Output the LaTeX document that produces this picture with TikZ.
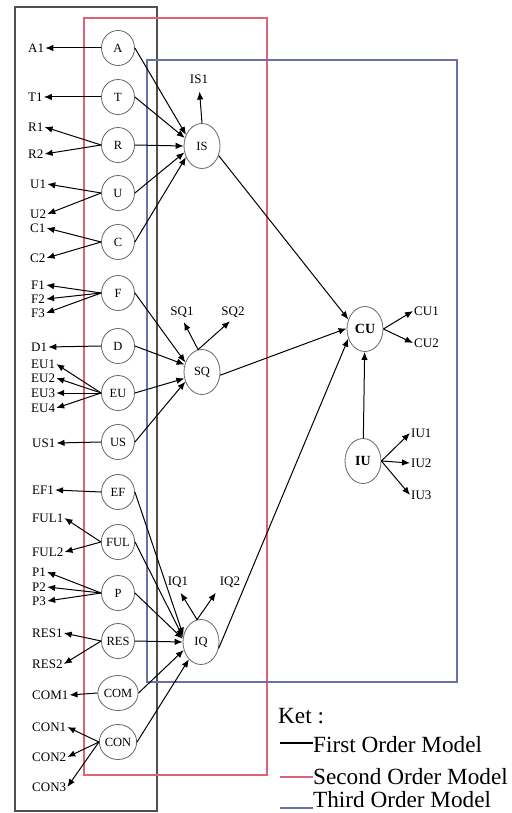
\documentclass[tikz,border=0pt]{standalone}
\usepackage{fontspec}
\setmainfont{Liberation Serif}
\usetikzlibrary{shapes.geometric,arrows.meta}

\definecolor{boxblack}{HTML}{505050}
\definecolor{boxred}{HTML}{E06276}
\definecolor{boxblue}{HTML}{6C70AA}

\tikzset{
  lat/.style={ellipse, draw=black!60, line width=0.8pt, inner sep=0pt,
    minimum width=33, minimum height=35, font=\fontsize{12.5}{12.5}\selectfont},
  hilat/.style={lat, minimum width=36, minimum height=45},
  toplat/.style={hilat, font=\fontsize{14}{14}\selectfont\bfseries},
  ind/.style={inner sep=1pt, font=\fontsize{13}{13}\selectfont},
  indl/.style={ind, anchor=west},
  arr/.style={-{Latex[length=8pt,width=6.5pt]}, line width=1pt},
  frame/.style={line width=1.4pt},
  legtxt/.style={anchor=west, inner sep=0pt, font=\fontsize{23.2}{23.2}\selectfont}
}

\begin{document}
\begin{tikzpicture}[x=1pt,y=-1pt]
\useasboundingbox (0,0) rectangle (511,813);
\fill[white] (0,0) rectangle (511,813);

% model frames
\draw[frame, boxblack] (15,7) rectangle (157,811);
\draw[frame, boxred] (84,18) rectangle (267,775);
\draw[frame, boxblue] (147,60) rectangle (457,682);

% first order latent variables
\node[lat] (A)   at (118,48)  {A};
\node[lat] (T)   at (118,97)  {T};
\node[lat] (R)   at (118,145) {R};
\node[lat] (U)   at (118,193) {U};
\node[lat] (C)   at (118,242) {C};
\node[lat] (F)   at (118,293) {F};
\node[lat] (D)   at (118,346) {D};
\node[lat] (EU)  at (118,393) {EU};
\node[lat] (US)  at (118,442) {US};
\node[lat] (EF)  at (118,492) {EF};
\node[lat] (FUL) at (118,542) {FUL};
\node[lat] (P)   at (118,593) {P};
\node[lat] (RES) at (118,641) {RES};
\node[lat] (COM) at (118,693) {COM};
\node[lat] (CON) at (118,742) {CON};

% indicators of the first order variables
\node[indl] (A1)   at (27,48)  {A1};
\node[indl] (T1)   at (27,97)  {T1};
\node[indl] (R1)   at (27,127) {R1};
\node[indl] (R2)   at (27,154) {R2};
\node[indl] (U1)   at (29,184) {U1};
\node[indl] (U2)   at (29,214) {U2};
\node[indl] (C1)   at (29,228) {C1};
\node[indl] (C2)   at (29,258) {C2};
\node[indl] (F1)   at (30,285) {F1};
\node[indl] (F2)   at (30,299) {F2};
\node[indl] (F3)   at (30,313) {F3};
\node[indl] (D1)   at (30,347) {D1};
\node[indl] (EU1)  at (30,364) {EU1};
\node[indl] (EU2)  at (30,378) {EU2};
\node[indl] (EU3)  at (30,393) {EU3};
\node[indl] (EU4)  at (30,408) {EU4};
\node[indl] (US1)  at (31,443) {US1};
\node[indl] (EF1)  at (31,490) {EF1};
\node[indl] (FUL1) at (31,518) {FUL1};
\node[indl] (FUL2) at (31,552) {FUL2};
\node[indl] (P1)   at (31,572) {P1};
\node[indl] (P2)   at (31,587) {P2};
\node[indl] (P3)   at (31,601) {P3};
\node[indl] (RES1) at (31,633) {RES1};
\node[indl] (RES2) at (31,664) {RES2};
\node[indl] (COM1) at (31,695) {COM1};
\node[indl] (CON1) at (31,727) {CON1};
\node[indl] (CON2) at (31,757) {CON2};
\node[indl] (CON3) at (31,787) {CON3};

\foreach \lv/\il in {A/A1,T/T1,R/R1,R/R2,U/U1,U/U2,C/C1,C/C2,
  F/F1,F/F2,F/F3,D/D1,EU/EU1,EU/EU2,EU/EU3,EU/EU4,US/US1,EF/EF1,
  FUL/FUL1,FUL/FUL2,P/P1,P/P2,P/P3,RES/RES1,RES/RES2,COM/COM1,
  CON/CON1,CON/CON2,CON/CON3}
  \draw[arr] (\lv.west) -- (\il.east);

% second order latent variables
\node[hilat] (IS) at (202,146) {IS};
\node[hilat] (SQ) at (202,372) {SQ};
\node[hilat] (IQ) at (201,642) {IQ};

\node[ind] (IS1) at (199,79)  {IS1};
\node[ind] (SQ1) at (182,312) {SQ1};
\node[ind] (SQ2) at (233,312) {SQ2};
\node[ind] (IQ1) at (178,582) {IQ1};
\node[ind] (IQ2) at (230,582) {IQ2};

\draw[arr, shorten >=7pt] (IS.north) -- (IS1.south);
\draw[arr, shorten >=4pt] (SQ.100) -- (SQ1.south);
\draw[arr, shorten >=4pt] (SQ.100) -- (SQ2.south);
\draw[arr, shorten >=5pt] (IQ.100) -- (IQ1.south);
\draw[arr, shorten >=5pt] (IQ.100) -- (IQ2.south west);

% first order to second order paths
\foreach \lv/\ang in {A/145,T/155,R/180,U/200,C/215}
  \draw[arr] (\lv.east) -- (IS.\ang);
\foreach \lv/\ang in {F/150,D/157,EU/200,US/210}
  \draw[arr] (\lv.east) -- (SQ.\ang);
\foreach \lv/\ang in {EF/160,FUL/165,P/170,RES/180,COM/205,CON/235}
  \draw[arr] (\lv.east) -- (IQ.\ang);

% third order latent variables
\node[toplat] (CU) at (365,329) {CU};
\node[toplat] (IU) at (363,461) {IU};

\node[indl] (CU1) at (413,311) {CU1};
\node[indl] (CU2) at (413,343) {CU2};
\node[indl] (IU1) at (410,433) {IU1};
\node[indl] (IU2) at (410,463) {IU2};
\node[indl] (IU3) at (410,495) {IU3};

\draw[arr] (CU.east) -- (CU1.west);
\draw[arr] (CU.east) -- (CU2.west);
\draw[arr] (IU.east) -- (IU1.west);
\draw[arr] (IU.east) -- (IU2.west);
\draw[arr] (IU.east) -- (IU3.west);

\draw[arr] (IS.-30) -- (CU.150);
\draw[arr] (SQ.-10) -- (CU.178);
\draw[arr] (IQ.-20) -- (CU.210);
\draw[arr] (IU) -- (CU);

% legend
\node[legtxt] (ket) at (278,716) {Ket :};
\coordinate (l1a) at (280,743);
\coordinate (l1b) at (313,743);
\coordinate (l2a) at (280,777);
\coordinate (l2b) at (313,777);
\coordinate (l3a) at (280,808);
\coordinate (l3b) at (313,808);
\draw[line width=1.4pt, black] (l1a) -- (l1b);
\draw[line width=1.4pt, boxred] (l2a) -- (l2b);
\draw[line width=1.4pt, boxblue] (l3a) -- (l3b);
\node[legtxt] (lg1) at (313,745) {First Order Model};
\node[legtxt] (lg2) at (313,777) {Second Order Model};
\node[legtxt] (lg3) at (313,800) {Third Order Model};
\end{tikzpicture}
\end{document}
